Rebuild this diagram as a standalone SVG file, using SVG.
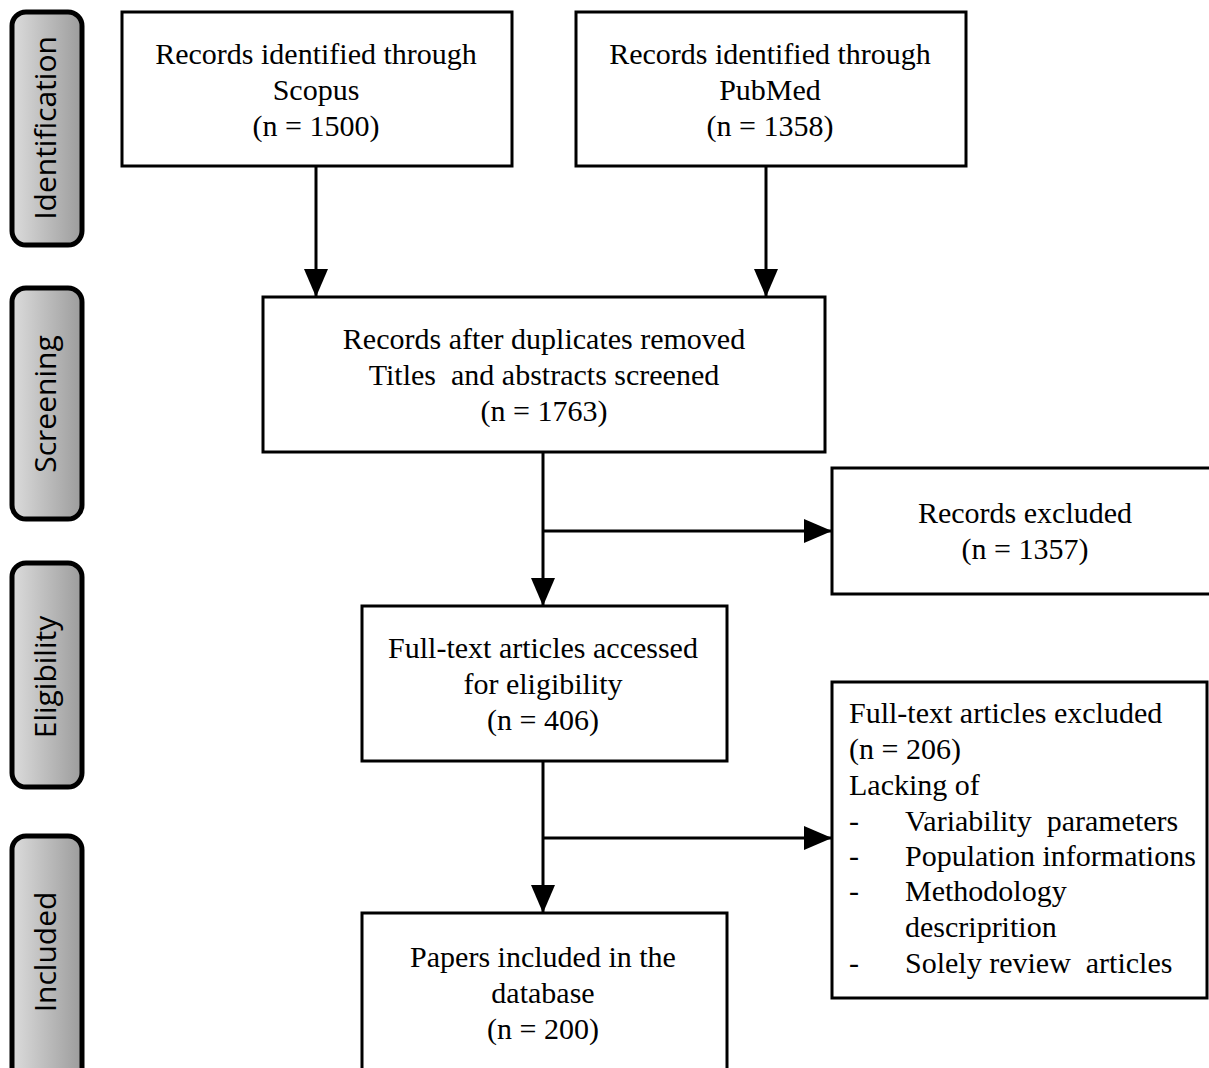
<svg xmlns="http://www.w3.org/2000/svg" width="1209" height="1068" viewBox="0 0 1209 1068">
<defs>
<linearGradient id="g" x1="0" y1="0" x2="1" y2="0">
<stop offset="0" stop-color="#dcdcdc"/>
<stop offset="1" stop-color="#9c9c9c"/>
</linearGradient>
<marker id="ah" markerWidth="28" markerHeight="24" refX="28" refY="12" orient="auto" markerUnits="userSpaceOnUse">
<path d="M0,0 L28,12 L0,24 Z" fill="#000"/>
</marker>
<style>
.box{fill:#fff;stroke:#000;stroke-width:3}
.side{fill:url(#g);stroke:#000;stroke-width:5}
.t{font-family:"Liberation Serif","Times New Roman",serif;font-size:30px;fill:#000;white-space:pre}
.c{text-anchor:middle}
.s{font-family:"Open Sans","Noto Sans",sans-serif;font-size:30px;fill:#000;text-anchor:middle}
.ln{stroke:#000;stroke-width:3;fill:none}
</style>
</defs>
<rect width="1209" height="1068" fill="#fff"/>
<g id="side-identification"><rect class="side" x="12" y="12" width="70" height="233" rx="14"/><text class="s" transform="translate(56,128) rotate(-90)">Identification</text></g>
<g id="side-screening"><rect class="side" x="12" y="288" width="70" height="231" rx="14"/><text class="s" transform="translate(56,404) rotate(-90)">Screening</text></g>
<g id="side-eligibility"><rect class="side" x="12" y="563" width="70" height="224" rx="14"/><text class="s" transform="translate(56,677) rotate(-90)">Eligibility</text></g>
<g id="side-included"><rect class="side" x="12" y="836" width="70" height="250" rx="14"/><text class="s" transform="translate(56,952) rotate(-90)">Included</text></g>
<g id="n-scopus"><rect class="box" x="122" y="12" width="390" height="154"/>
<text class="t c" x="316" y="64">Records identified through</text><text class="t c" x="316" y="100">Scopus</text><text class="t c" x="316" y="136">(n = 1500)</text></g>
<g id="n-pubmed"><rect class="box" x="576" y="12" width="390" height="154"/>
<text class="t c" x="770" y="64">Records identified through</text><text class="t c" x="770" y="100">PubMed</text><text class="t c" x="770" y="136">(n = 1358)</text></g>
<g id="n-screen"><rect class="box" x="263" y="297" width="562" height="155"/>
<text class="t c" x="544" y="349">Records after duplicates removed</text><text class="t c" x="544" y="385">Titles  and abstracts screened</text><text class="t c" x="544" y="421">(n = 1763)</text></g>
<g id="n-excl1"><rect class="box" x="832" y="468" width="390" height="126"/>
<text class="t c" x="1025" y="523">Records excluded</text><text class="t c" x="1025" y="559">(n = 1357)</text></g>
<g id="n-elig"><rect class="box" x="362" y="606" width="365" height="155"/>
<text class="t c" x="543" y="658">Full-text articles accessed</text><text class="t c" x="543" y="694">for eligibility</text><text class="t c" x="543" y="730">(n = 406)</text></g>
<g id="n-excl2"><rect class="box" x="832" y="682" width="375" height="316"/>
<text class="t" x="849" y="723">Full-text articles excluded</text>
<text class="t" x="849" y="759">(n = 206)</text>
<text class="t" x="849" y="795">Lacking of</text>
<text class="t" x="849" y="831">-</text><text class="t" x="905" y="831">Variability  parameters</text>
<text class="t" x="849" y="866">-</text><text class="t" x="905" y="866">Population informations</text>
<text class="t" x="849" y="901">-</text><text class="t" x="905" y="901">Methodology</text>
<text class="t" x="905" y="937">descriprition</text>
<text class="t" x="849" y="973">-</text><text class="t" x="905" y="973">Solely review  articles</text></g>
<g id="n-incl"><rect class="box" x="362" y="913" width="365" height="170"/>
<text class="t c" x="543" y="967">Papers included in the</text><text class="t c" x="543" y="1003">database</text><text class="t c" x="543" y="1039">(n = 200)</text></g>
<g id="connectors">
<line class="ln" x1="316" y1="166" x2="316" y2="297" marker-end="url(#ah)"/>
<line class="ln" x1="766" y1="166" x2="766" y2="297" marker-end="url(#ah)"/>
<line class="ln" x1="543" y1="452" x2="543" y2="606" marker-end="url(#ah)"/>
<line class="ln" x1="543" y1="531" x2="832" y2="531" marker-end="url(#ah)"/>
<line class="ln" x1="543" y1="761" x2="543" y2="913" marker-end="url(#ah)"/>
<line class="ln" x1="543" y1="838" x2="832" y2="838" marker-end="url(#ah)"/>
</g>
</svg>
